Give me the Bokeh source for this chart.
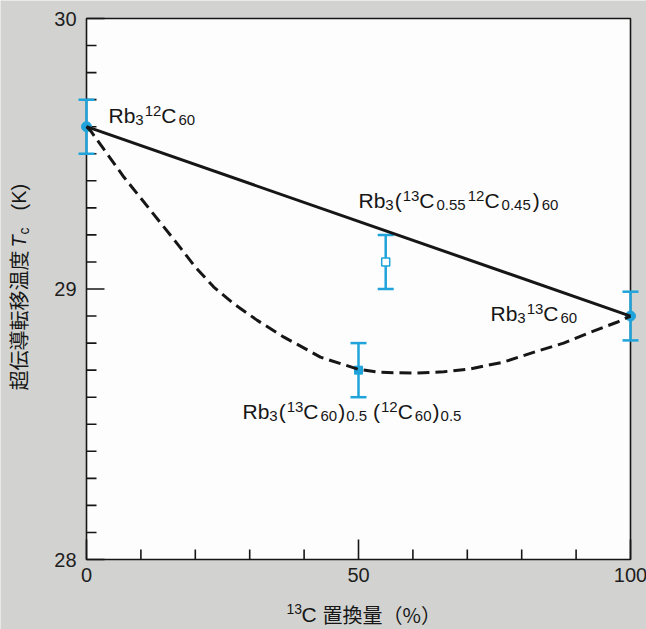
import numpy as np
from bokeh.plotting import figure
from bokeh.models import Range1d, Label
from bokeh.embed import file_html
from bokeh.resources import INLINE

# ---- data ----
line_x = [0, 100]
line_y = [29.60, 28.90]

curve_x = [0, 0.7, 6.9, 11.8, 16.7, 20.0, 23.4, 27.1, 31.4, 36.3, 40.6, 43.0, 50.0, 54.0,
           60.2, 65.7, 70.6, 76.7, 82.8, 87.7, 92.6, 97.5, 100]
curve_y = [29.60, 29.586, 29.413, 29.290, 29.167, 29.081, 29.007, 28.945, 28.884, 28.822,
           28.775, 28.748, 28.703, 28.692, 28.689, 28.694, 28.705, 28.730, 28.770, 28.800,
           28.840, 28.877, 28.900]

circ_x = [0, 100]
circ_y = [29.60, 28.90]
circ_err = [0.10, 0.09]

sq_x = [50]
sq_y = [28.70]
sq_err = [0.10]

open_x = [55]
open_y = [29.10]
open_err = [0.10]

x_major = [0, 50, 100]
x_minor = [10, 20, 30, 40, 60, 70, 80, 90]
x_labels = ["0", "50", "100"]
y_major = [28, 29, 30]
y_minor = [28.1, 28.2, 28.3, 28.4, 28.5, 28.6, 28.7, 28.8, 28.9,
           29.1, 29.2, 29.3, 29.4, 29.5, 29.6, 29.7, 29.8, 29.9]
y_labels = ["28", "29", "30"]

BLUE = "#1fa3da"
INK = "#161616"
GRAY = "#d2d3d1"

# ---- layout: plot area placed where the reference has it (page pixels) ----
W, H = 646, 629          # canvas
PAGE = 0                 # canvas origin on the page
FL, FR, FT, FB = 86, 630, 18, 559
x0, x1 = x_major[0], x_major[-1]
y0, y1 = y_major[0], y_major[-1]
SX = (FR - FL) / (x1 - x0)
SY = (FB - FT) / (y1 - y0)
BASE_FIX = 7             # renderer draws 'alphabetic' labels a little low


def dx(px):
    return x0 + (px - FL) / SX


def dy(py):
    return y1 - (py - FT) / SY


p = figure(width=W, height=H, output_backend="svg", toolbar_location=None,
           x_range=Range1d(dx(PAGE), dx(PAGE + W)), y_range=Range1d(dy(PAGE + H), dy(PAGE)),
           x_axis_location=None, y_axis_location=None,
           min_border_left=0, min_border_right=0, min_border_top=0, min_border_bottom=0)
p.border_fill_color = GRAY
p.background_fill_color = GRAY
p.outline_line_color = None
p.xgrid.visible = False
p.ygrid.visible = False

# plot area
p.quad(left=[x0], right=[x1], bottom=[y0], top=[y1], fill_color="#fdfdfd",
       line_color=INK, line_width=1.6)

# inward ticks
p.segment(x0=x_minor, y0=[y0] * len(x_minor), x1=x_minor, y1=[y0 + 10 / SY] * len(x_minor),
          line_color=INK, line_width=1.6)
p.segment(x0=x_major, y0=[y0] * len(x_major), x1=x_major, y1=[y0 + 20 / SY] * len(x_major),
          line_color=INK, line_width=1.6)
p.segment(x0=[x0] * len(y_minor), y0=y_minor, x1=[x0 + 10 / SX] * len(y_minor), y1=y_minor,
          line_color=INK, line_width=1.6)
p.segment(x0=[x0] * len(y_major), y0=y_major, x1=[x0 + 18 / SX] * len(y_major), y1=y_major,
          line_color=INK, line_width=1.6)

# tick labels
p.text(x=x_major, y=[y0 - 8 / SY] * len(x_major), text=x_labels, text_align="center",
       text_baseline="top", text_font={"value": "Liberation Sans"}, text_font_size="20px",
       text_color="#1e1e1e")
p.text(x=[x0 - 10 / SX] * len(y_major), y=y_major, text=y_labels, text_align="right",
       text_baseline="middle", text_font={"value": "Liberation Sans"}, text_font_size="20px",
       text_color="#1e1e1e")

# ---- error bars & markers ----
def errbars(xs, ys, es):
    lo = [y - e for y, e in zip(ys, es)]
    hi = [y + e for y, e in zip(ys, es)]
    p.segment(x0=xs, y0=lo, x1=xs, y1=hi, line_color=BLUE, line_width=2.5)
    p.scatter(xs, lo, marker="dash", size=16, line_color=BLUE, line_width=2.5)
    p.scatter(xs, hi, marker="dash", size=16, line_color=BLUE, line_width=2.5)


errbars(circ_x, circ_y, circ_err)
errbars(sq_x, sq_y, sq_err)
errbars(open_x, open_y, open_err)

p.scatter(circ_x, circ_y, marker="circle", size=10, fill_color=BLUE, line_color=BLUE)
p.scatter(sq_x, sq_y, marker="square", size=8, fill_color=BLUE, line_color=BLUE)
p.scatter(open_x, open_y, marker="square", size=8, fill_color="white", line_color=BLUE,
          line_width=1.5)

# ---- lines ----
p.line(line_x, line_y, line_width=3, line_color=INK)
p.line(curve_x, curve_y, line_width=3, line_color=INK, line_dash="12 6", line_join="round")

# ---- rich text labels ----
WID = {'R': .722, 'b': .556, 'C': .722, '(': .333, ')': .333, '.': .278, ',': .278,
       ' ': .278, '%': .889, 'K': .667, 'T': .611, 'c': .5}


def tw(s, size):
    return sum(WID.get(ch, .556) for ch in s) * size


def lab(px, py, text, size, font="Liberation Sans", style="normal", baseline="alphabetic",
        angle=0.0):
    if angle == 0.0:
        py = py - BASE_FIX
    p.add_layout(Label(x=dx(px), y=dy(py), text=text, text_font=font, text_font_style=style,
                       text_font_size=f"{size}px", text_color=INK, text_baseline=baseline,
                       text_align="left", angle=angle))


def rich(segs, px, py, size=21, ssize=15):
    x = px
    for seg in segs:
        text, kind = seg[0], seg[1]
        x += seg[2] if len(seg) > 2 else 0
        if kind == "n":
            fs, off = size, 0
        elif kind == "sup":
            fs, off = ssize, -5
        else:
            fs, off = ssize, 4
        lab(x, py + off, text, fs)
        x += tw(text, fs)


rich([("Rb", "n"), ("3", "sub"), ("12", "sup", 1), ("C", "n"), ("60", "sub", 2)], 108, 122)
rich([("Rb", "n"), ("3", "sub"), ("(", "n", 1), ("13", "sup", 1), ("C", "n"), ("0.55", "sub", 2),
      ("12", "sup", 2), ("C", "n"), ("0.45", "sub", 2), (")", "n", 2), ("60", "sub", 2)], 358, 207)
rich([("Rb", "n"), ("3", "sub"), ("13", "sup", 1), ("C", "n"), ("60", "sub", 2)], 490, 320)
rich([("Rb", "n"), ("3", "sub"), ("(", "n", 1), ("13", "sup", 1), ("C", "n"), ("60", "sub", 2),
      (")", "n", 1), ("0.5", "sub", 1), ("(", "n", 6), ("12", "sup", 1), ("C", "n"),
      ("60", "sub", 2), (")", "n", 1), ("0.5", "sub", 1)], 242, 418)

# x axis title
XB = 621
lab(286, XB - 6, "13", 14)
lab(301, XB, "C", 21)
lab(322, XB, "置換量", 20, font="Noto Sans CJK JP")
lab(382, XB, "（%）", 20, font="Noto Sans CJK JP")

# y axis title (rotated, reads bottom to top)
ang = np.pi / 2
lab(18, 390, "超伝導転移温度", 20, font="Noto Sans CJK JP", baseline="middle", angle=ang)
lab(18, 247, "T", 20, style="italic", baseline="middle", angle=ang)
lab(23, 234, "c", 14, baseline="middle", angle=ang)
lab(18, 210, "(K)", 20, baseline="middle", angle=ang)

open("out.html", "w").write(file_html(p, INLINE))
